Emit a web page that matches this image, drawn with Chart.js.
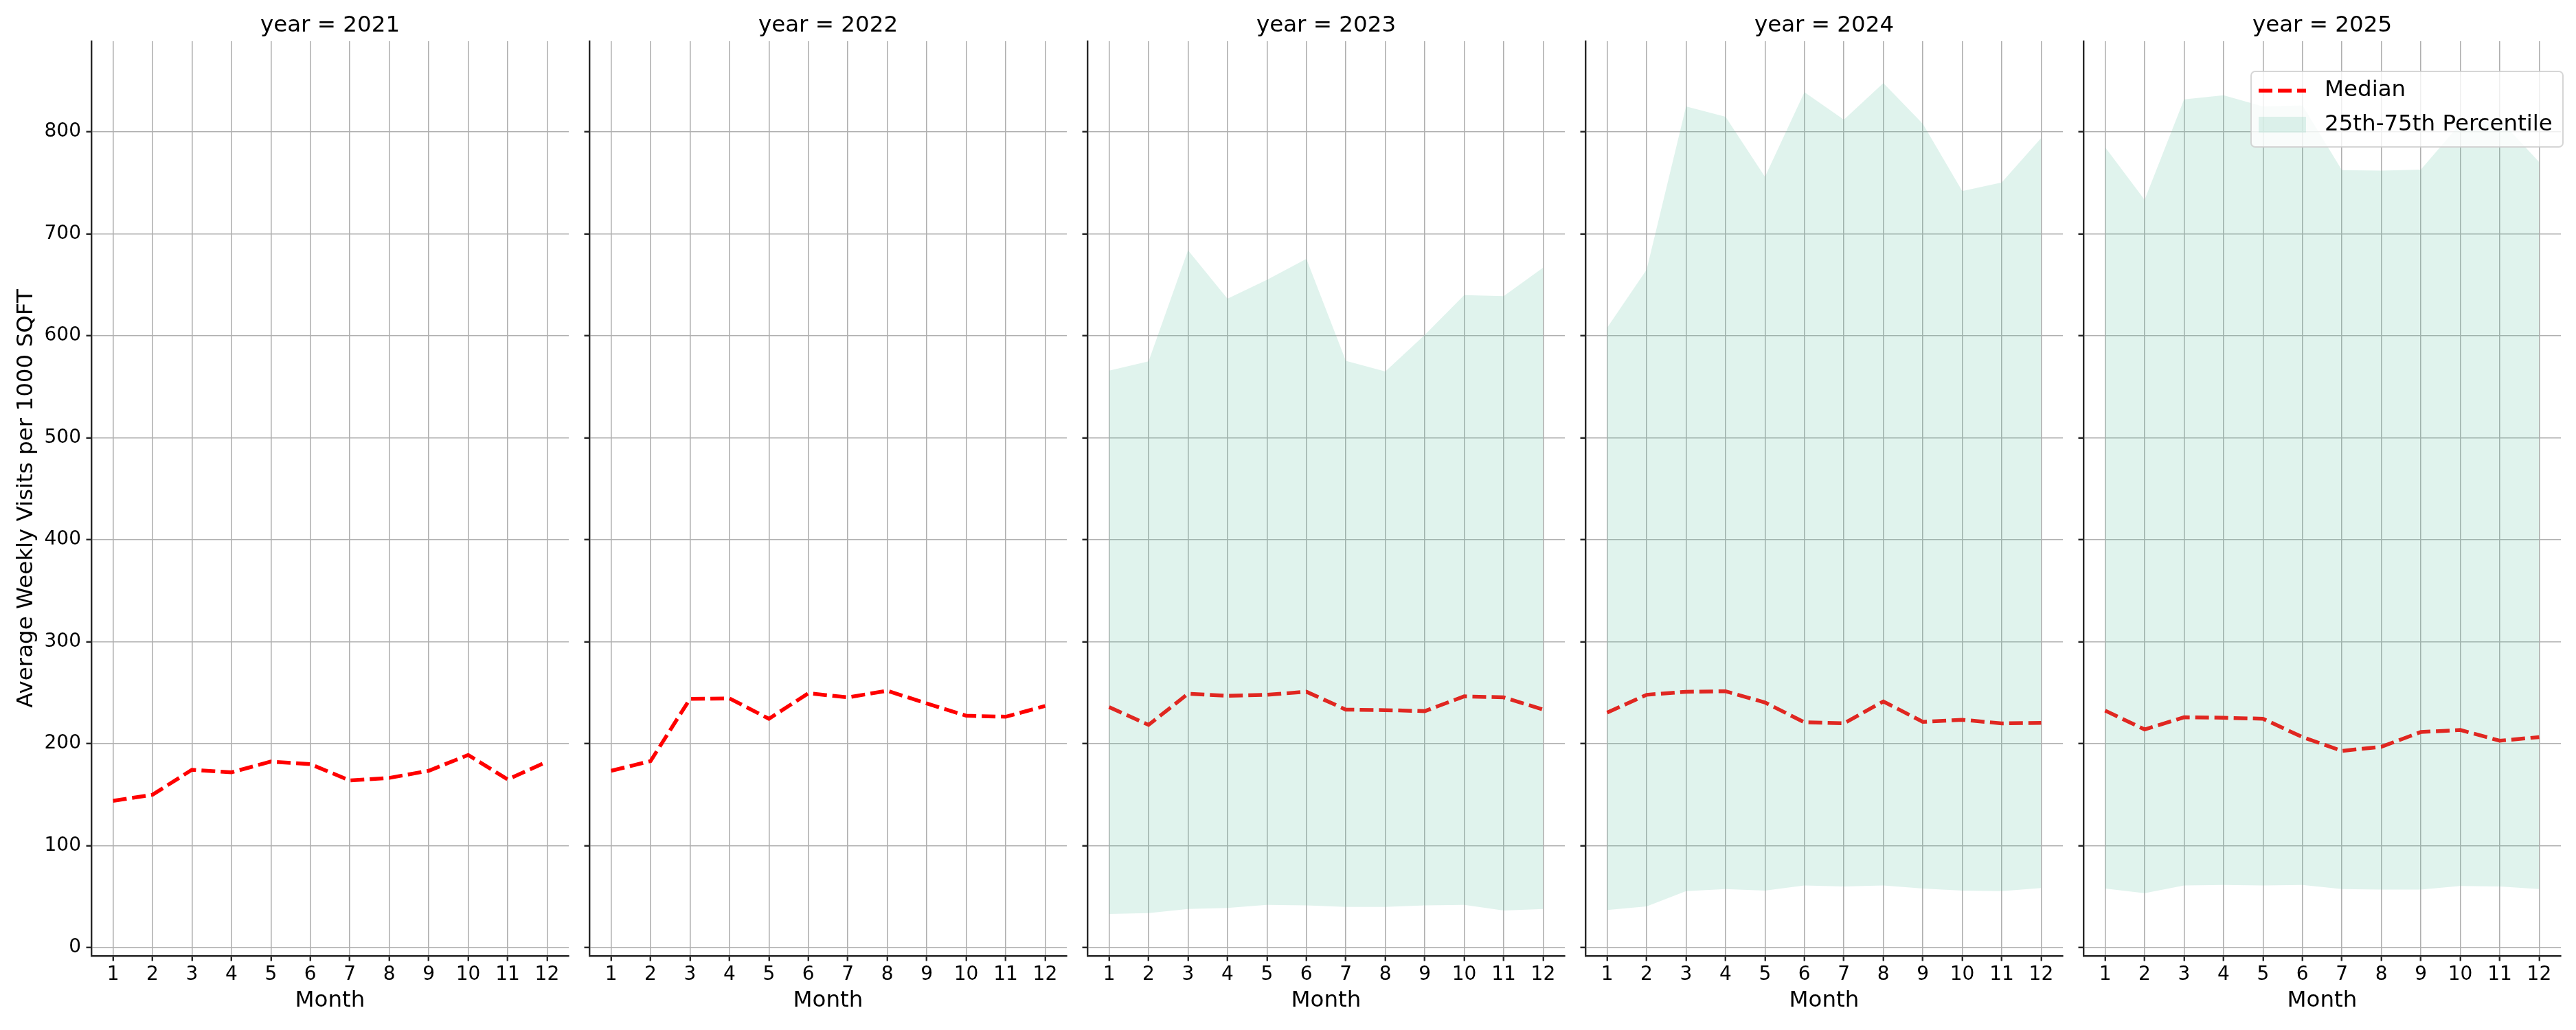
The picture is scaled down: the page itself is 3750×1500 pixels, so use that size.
<!DOCTYPE html>
<html lang="en">
<head>
    <meta charset="UTF-8">
    <title>Average Weekly Visits per 1000 SQFT by Month</title>
    <script src="https://cdn.jsdelivr.net/npm/chart.js"></script>
    <style>
        html, body { margin: 0; padding: 0; background: #ffffff; }
        body { position: relative; width: 3750px; height: 1500px; overflow: hidden; }
        canvas { position: absolute; top: 0; }
    </style>
</head>
<body>
    <div id="panels"></div>

    <script>
        // Data
        const years = [2021, 2022, 2023, 2024, 2025];
        const months = [1, 2, 3, 4, 5, 6, 7, 8, 9, 10, 11, 12];
        const yTicks = [0, 100, 200, 300, 400, 500, 600, 700, 800];

        const median2021 = [144, 150, 174.5, 172, 182.5, 180, 164, 166.5, 173.5, 189, 165, 182.5];
        const median2022 = [173.5, 183, 244, 244.5, 224.5, 249.5, 245.5, 252, 239.5, 227.5, 226.5, 237];
        const median2023 = [236, 218.5, 249, 247, 248, 251, 233.5, 233, 232, 246.5, 245.5, 233.5];
        const median2024 = [230.5, 248, 251, 251.5, 240.5, 221, 220, 241.5, 221.5, 223.5, 220, 220.5];
        const median2025 = [232.5, 214, 226, 225.5, 224.5, 206.5, 193, 197, 211.5, 213.5, 203, 206.5];

        // 25th / 75th percentile band (only 2023 onwards)
        const q25_2023 = [33, 34, 38, 39, 42, 41.5, 40, 40, 41.5, 42, 36.5, 38];
        const q75_2023 = [566, 575, 684, 636.5, 655, 675.5, 575.5, 565, 601, 640, 639, 667];
        const q25_2024 = [37, 40.5, 55.5, 57.5, 56, 61, 60, 61, 58, 56, 55.5, 58.5];
        const q75_2024 = [608, 665, 825, 815, 756, 839, 812, 848, 808, 742, 750.5, 794];
        const q25_2025 = [58, 53.5, 61, 61.5, 61, 61.5, 57.5, 57, 57, 60.5, 60, 57.5];
        const q75_2025 = [785, 733.5, 832, 836, 825, 826, 762.5, 762, 763, 808, 812, 770.5];

        const medians = [median2021, median2022, median2023, median2024, median2025];
        const lowers = [null, null, q25_2023, q25_2024, q25_2025];
        const uppers = [null, null, q75_2023, q75_2024, q75_2025];

        const BAND = 'rgba(102, 194, 165, 0.2)';
        const GRID = '#b0b0b0';
        const SPINE = '#262626';
        const LABEL_SIZE = 32.5;

        Chart.defaults.font.family = '"DejaVu Sans", sans-serif';
        Chart.defaults.color = '#000000';

        const toPoints = (vals) => months.map((m, i) => ({ x: m, y: vals[i] }));

        // legend box drawn matplotlib-style in the last facet
        const facetLegend = {
            id: 'facetLegend',
            afterDraw(chart) {
                const ctx = chart.ctx;
                const ca = chart.chartArea;
                const right = ca.right + 3;
                const left = right - 454;
                const top = ca.top + 44;
                const h = 110;
                ctx.save();
                ctx.beginPath();
                ctx.roundRect(left, top, right - left, h, 6);
                ctx.fillStyle = 'rgba(255, 255, 255, 0.8)';
                ctx.fill();
                ctx.lineWidth = 2;
                ctx.strokeStyle = 'rgba(204, 204, 204, 0.8)';
                ctx.stroke();

                // Median handle
                ctx.beginPath();
                ctx.setLineDash([20, 8]);
                ctx.lineWidth = 5.5;
                ctx.strokeStyle = '#ff0000';
                ctx.moveTo(left + 11, top + 28);
                ctx.lineTo(left + 80, top + 28);
                ctx.stroke();
                ctx.setLineDash([]);

                // band patch
                ctx.fillStyle = BAND;
                ctx.fillRect(left + 11, top + 66, 69, 23);

                ctx.fillStyle = '#000000';
                ctx.font = LABEL_SIZE + 'px "DejaVu Sans", sans-serif';
                ctx.textBaseline = 'middle';
                ctx.textAlign = 'left';
                ctx.fillText('Median', left + 107, top + 28);
                ctx.fillText('25th-75th Percentile', left + 107, top + 78);
                ctx.restore();
            }
        };

        const firstSpine = 133;
        const pitch = 725;
        const plotW = 695;
        const holder = document.getElementById('panels');

        years.forEach((year, i) => {
            const yAxisW = i === 0 ? 133 : 12;
            const rightPad = i === years.length - 1 ? 22 : 8;
            const canvas = document.createElement('canvas');
            const w = yAxisW + plotW + rightPad;
            canvas.width = w;
            canvas.height = 1500;
            canvas.style.left = (firstSpine + pitch * i - yAxisW) + 'px';
            canvas.style.width = w + 'px';
            canvas.style.height = '1500px';
            holder.appendChild(canvas);

            const datasets = [];
            if (uppers[i]) {
                datasets.push({
                    label: '75th',
                    data: toPoints(uppers[i]),
                    borderWidth: 0,
                    borderColor: 'rgba(0,0,0,0)',
                    pointRadius: 0,
                    backgroundColor: BAND,
                    fill: '+1',
                    tension: 0
                });
                datasets.push({
                    label: '25th',
                    data: toPoints(lowers[i]),
                    borderWidth: 0,
                    borderColor: 'rgba(0,0,0,0)',
                    pointRadius: 0,
                    fill: false,
                    tension: 0
                });
            }
            datasets.push({
                label: 'Median',
                data: toPoints(medians[i]),
                borderColor: '#ff0000',
                borderWidth: 5.5,
                borderDash: [20, 8],
                borderCapStyle: 'butt',
                pointRadius: 0,
                fill: false,
                tension: 0
            });

            new Chart(canvas, {
                type: 'line',
                data: { datasets: datasets },
                options: {
                    responsive: false,
                    animation: false,
                    devicePixelRatio: 1,
                    layout: { padding: { top: 0, right: rightPad, bottom: 0, left: 0 } },
                    plugins: {
                        legend: { display: false },
                        tooltip: { enabled: false },
                        title: {
                            display: true,
                            text: 'year = ' + year,
                            fullSize: false,
                            color: '#000000',
                            font: { size: LABEL_SIZE, weight: 'normal' },
                            padding: { top: 18.5, bottom: 2.5 }
                        }
                    },
                    scales: {
                        x: {
                            type: 'linear',
                            min: 0.45,
                            max: 12.55,
                            afterBuildTicks: (s) => { s.ticks = months.map(v => ({ value: v })); },
                            afterFit: (s) => { s.height = 108; },
                            ticks: { font: { size: 28 }, color: '#000000', padding: 3, maxRotation: 0, autoSkip: false },
                            grid: { color: GRID, lineWidth: 1.6, tickColor: SPINE, tickWidth: 2.4, tickLength: 7.5 },
                            border: { color: SPINE, width: 2.4 },
                            title: { display: true, text: 'Month', font: { size: LABEL_SIZE }, color: '#000000', padding: { top: 0, bottom: 22.5 } }
                        },
                        y: {
                            type: 'linear',
                            min: -8,
                            max: 889,
                            afterBuildTicks: (s) => { s.ticks = yTicks.map(v => ({ value: v })); },
                            afterFit: (s) => { s.width = yAxisW; },
                            ticks: { display: i === 0, font: { size: 28 }, color: '#000000', padding: 7.5 },
                            grid: { color: GRID, lineWidth: 1.6, tickColor: SPINE, tickWidth: 2.4, tickLength: 7.5 },
                            border: { color: SPINE, width: 2.4 },
                            title: {
                                display: i === 0,
                                text: 'Average Weekly Visits per 1000 SQFT',
                                font: { size: LABEL_SIZE },
                                color: '#000000',
                                padding: { top: 19.5, bottom: 0 }
                            }
                        }
                    }
                },
                plugins: i === years.length - 1 ? [facetLegend] : []
            });
        });
    </script>
</body>
</html>
